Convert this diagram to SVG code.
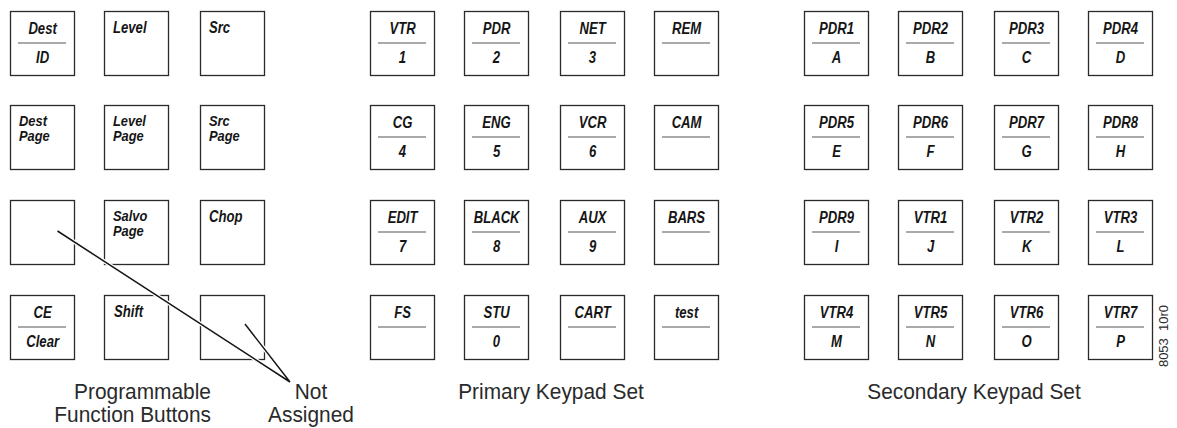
<svg xmlns="http://www.w3.org/2000/svg" width="1177" height="428" viewBox="0 0 1177 428">
<style>
.k use{fill:#fff;stroke:#2a2a2a;stroke-width:1.3}
.k line{stroke:#555;stroke-width:1.1}
.k text{font-family:"Liberation Sans",Arial,sans-serif;font-weight:bold;font-style:italic;font-size:16px;fill:#151515;transform-box:fill-box;transform-origin:center;transform:scaleX(0.82)}
.k text.l{transform-origin:left center}
.k text.t{font-size:15px;transform:scaleX(0.86)}
.c{text-anchor:middle}
.lbl{font-family:"Liberation Sans",Arial,sans-serif;font-size:22px;fill:#2a2a2a;transform-box:fill-box;transform-origin:center;transform:scaleX(0.95)}
.lbl.e{text-anchor:end;transform-origin:right center}
.lbl.m{text-anchor:middle}
.halo{stroke:#fff;stroke-width:4;fill:none}
.ln{stroke:#151515;stroke-width:1.5;fill:none}
</style>
<defs>
<rect id="box" x="0.5" y="0.5" width="64" height="64"/>
</defs>
<g id="programmable">
<g id="k-dest-id" class="k" transform="translate(10,11)"><use href="#box"/><line x1="8" y1="32" x2="56" y2="32"/><text class="c" x="32.5" y="23">Dest</text><text class="c" x="32.5" y="52">ID</text></g>
<g id="k-level" class="k" transform="translate(104,11)"><use href="#box"/><text class="l" x="9" y="22">Level</text></g>
<g id="k-src" class="k" transform="translate(200,11)"><use href="#box"/><text class="l" x="9" y="22">Src</text></g>
<g id="k-dest-page" class="k" transform="translate(10,105)"><use href="#box"/><text class="l t" x="9" y="21.5">Dest</text><text class="l t" x="9" y="36.5">Page</text></g>
<g id="k-level-page" class="k" transform="translate(104,105)"><use href="#box"/><text class="l t" x="9" y="21.5">Level</text><text class="l t" x="9" y="36.5">Page</text></g>
<g id="k-src-page" class="k" transform="translate(200,105)"><use href="#box"/><text class="l t" x="9" y="21.5">Src</text><text class="l t" x="9" y="36.5">Page</text></g>
<g id="k-blank1" class="k" transform="translate(10,200)"><use href="#box"/></g>
<g id="k-salvo-page" class="k" transform="translate(104,200)"><use href="#box"/><text class="l t" x="9" y="21.5">Salvo</text><text class="l t" x="9" y="36.5">Page</text></g>
<g id="k-chop" class="k" transform="translate(200,200)"><use href="#box"/><text class="l" x="9" y="22">Chop</text></g>
<g id="k-ce-clear" class="k" transform="translate(10,295)"><use href="#box"/><line x1="8" y1="32" x2="56" y2="32"/><text class="c" x="32.5" y="23">CE</text><text class="c" x="32.5" y="52">Clear</text></g>
<g id="k-shift" class="k" transform="translate(104,295)"><use href="#box"/><text class="l" x="10" y="22">Shift</text></g>
<g id="k-blank2" class="k" transform="translate(200,295)"><use href="#box"/></g>
</g>
<g id="primary">
<g id="k-vtr" class="k" transform="translate(370,11)"><use href="#box"/><line x1="8" y1="32" x2="56" y2="32"/><text class="c" x="32.5" y="23">VTR</text><text class="c" x="32.5" y="52">1</text></g>
<g id="k-pdr" class="k" transform="translate(464,11)"><use href="#box"/><line x1="8" y1="32" x2="56" y2="32"/><text class="c" x="32.5" y="23">PDR</text><text class="c" x="32.5" y="52">2</text></g>
<g id="k-net" class="k" transform="translate(560,11)"><use href="#box"/><line x1="8" y1="32" x2="56" y2="32"/><text class="c" x="32.5" y="23">NET</text><text class="c" x="32.5" y="52">3</text></g>
<g id="k-rem" class="k" transform="translate(654,11)"><use href="#box"/><line x1="8" y1="32" x2="56" y2="32"/><text class="c" x="32.5" y="23">REM</text></g>
<g id="k-cg" class="k" transform="translate(370,105)"><use href="#box"/><line x1="8" y1="32" x2="56" y2="32"/><text class="c" x="32.5" y="23">CG</text><text class="c" x="32.5" y="52">4</text></g>
<g id="k-eng" class="k" transform="translate(464,105)"><use href="#box"/><line x1="8" y1="32" x2="56" y2="32"/><text class="c" x="32.5" y="23">ENG</text><text class="c" x="32.5" y="52">5</text></g>
<g id="k-vcr" class="k" transform="translate(560,105)"><use href="#box"/><line x1="8" y1="32" x2="56" y2="32"/><text class="c" x="32.5" y="23">VCR</text><text class="c" x="32.5" y="52">6</text></g>
<g id="k-cam" class="k" transform="translate(654,105)"><use href="#box"/><line x1="8" y1="32" x2="56" y2="32"/><text class="c" x="32.5" y="23">CAM</text></g>
<g id="k-edit" class="k" transform="translate(370,200)"><use href="#box"/><line x1="8" y1="32" x2="56" y2="32"/><text class="c" x="32.5" y="23">EDIT</text><text class="c" x="32.5" y="52">7</text></g>
<g id="k-black" class="k" transform="translate(464,200)"><use href="#box"/><line x1="8" y1="32" x2="56" y2="32"/><text class="c" x="32.5" y="23">BLACK</text><text class="c" x="32.5" y="52">8</text></g>
<g id="k-aux" class="k" transform="translate(560,200)"><use href="#box"/><line x1="8" y1="32" x2="56" y2="32"/><text class="c" x="32.5" y="23">AUX</text><text class="c" x="32.5" y="52">9</text></g>
<g id="k-bars" class="k" transform="translate(654,200)"><use href="#box"/><line x1="8" y1="32" x2="56" y2="32"/><text class="c" x="32.5" y="23">BARS</text></g>
<g id="k-fs" class="k" transform="translate(370,295)"><use href="#box"/><line x1="8" y1="32" x2="56" y2="32"/><text class="c" x="32.5" y="23">FS</text></g>
<g id="k-stu" class="k" transform="translate(464,295)"><use href="#box"/><line x1="8" y1="32" x2="56" y2="32"/><text class="c" x="32.5" y="23">STU</text><text class="c" x="32.5" y="52">0</text></g>
<g id="k-cart" class="k" transform="translate(560,295)"><use href="#box"/><line x1="8" y1="32" x2="56" y2="32"/><text class="c" x="32.5" y="23">CART</text></g>
<g id="k-test" class="k" transform="translate(654,295)"><use href="#box"/><line x1="8" y1="32" x2="56" y2="32"/><text class="c" x="32.5" y="23">test</text></g>
</g>
<g id="secondary">
<g id="k-pdr1" class="k" transform="translate(804,11)"><use href="#box"/><line x1="8" y1="32" x2="56" y2="32"/><text class="c" x="32.5" y="23">PDR1</text><text class="c" x="32.5" y="52">A</text></g>
<g id="k-pdr2" class="k" transform="translate(898,11)"><use href="#box"/><line x1="8" y1="32" x2="56" y2="32"/><text class="c" x="32.5" y="23">PDR2</text><text class="c" x="32.5" y="52">B</text></g>
<g id="k-pdr3" class="k" transform="translate(994,11)"><use href="#box"/><line x1="8" y1="32" x2="56" y2="32"/><text class="c" x="32.5" y="23">PDR3</text><text class="c" x="32.5" y="52">C</text></g>
<g id="k-pdr4" class="k" transform="translate(1088,11)"><use href="#box"/><line x1="8" y1="32" x2="56" y2="32"/><text class="c" x="32.5" y="23">PDR4</text><text class="c" x="32.5" y="52">D</text></g>
<g id="k-pdr5" class="k" transform="translate(804,105)"><use href="#box"/><line x1="8" y1="32" x2="56" y2="32"/><text class="c" x="32.5" y="23">PDR5</text><text class="c" x="32.5" y="52">E</text></g>
<g id="k-pdr6" class="k" transform="translate(898,105)"><use href="#box"/><line x1="8" y1="32" x2="56" y2="32"/><text class="c" x="32.5" y="23">PDR6</text><text class="c" x="32.5" y="52">F</text></g>
<g id="k-pdr7" class="k" transform="translate(994,105)"><use href="#box"/><line x1="8" y1="32" x2="56" y2="32"/><text class="c" x="32.5" y="23">PDR7</text><text class="c" x="32.5" y="52">G</text></g>
<g id="k-pdr8" class="k" transform="translate(1088,105)"><use href="#box"/><line x1="8" y1="32" x2="56" y2="32"/><text class="c" x="32.5" y="23">PDR8</text><text class="c" x="32.5" y="52">H</text></g>
<g id="k-pdr9" class="k" transform="translate(804,200)"><use href="#box"/><line x1="8" y1="32" x2="56" y2="32"/><text class="c" x="32.5" y="23">PDR9</text><text class="c" x="32.5" y="52">I</text></g>
<g id="k-vtr1" class="k" transform="translate(898,200)"><use href="#box"/><line x1="8" y1="32" x2="56" y2="32"/><text class="c" x="32.5" y="23">VTR1</text><text class="c" x="32.5" y="52">J</text></g>
<g id="k-vtr2" class="k" transform="translate(994,200)"><use href="#box"/><line x1="8" y1="32" x2="56" y2="32"/><text class="c" x="32.5" y="23">VTR2</text><text class="c" x="32.5" y="52">K</text></g>
<g id="k-vtr3" class="k" transform="translate(1088,200)"><use href="#box"/><line x1="8" y1="32" x2="56" y2="32"/><text class="c" x="32.5" y="23">VTR3</text><text class="c" x="32.5" y="52">L</text></g>
<g id="k-vtr4" class="k" transform="translate(804,295)"><use href="#box"/><line x1="8" y1="32" x2="56" y2="32"/><text class="c" x="32.5" y="23">VTR4</text><text class="c" x="32.5" y="52">M</text></g>
<g id="k-vtr5" class="k" transform="translate(898,295)"><use href="#box"/><line x1="8" y1="32" x2="56" y2="32"/><text class="c" x="32.5" y="23">VTR5</text><text class="c" x="32.5" y="52">N</text></g>
<g id="k-vtr6" class="k" transform="translate(994,295)"><use href="#box"/><line x1="8" y1="32" x2="56" y2="32"/><text class="c" x="32.5" y="23">VTR6</text><text class="c" x="32.5" y="52">O</text></g>
<g id="k-vtr7" class="k" transform="translate(1088,295)"><use href="#box"/><line x1="8" y1="32" x2="56" y2="32"/><text class="c" x="32.5" y="23">VTR7</text><text class="c" x="32.5" y="52">P</text></g>
</g>
<g id="connectors">
<path class="halo" d="M57.5,231 L290,382 M245,324 L290,382"/>
<path class="ln" d="M57.5,231 L290,382 M245,324 L290,382"/>
</g>
<g id="labels">
<text class="lbl e" x="211" y="399">Programmable</text>
<text class="lbl e" x="211" y="422">Function Buttons</text>
<text class="lbl m" x="311" y="399">Not</text>
<text class="lbl m" x="311" y="422">Assigned</text>
<text class="lbl m" x="551" y="399">Primary Keypad Set</text>
<text class="lbl m" x="974" y="399">Secondary Keypad Set</text>
<text x="1168" y="336" transform="rotate(-90 1168 336)" text-anchor="middle" style="font-family:'Liberation Sans',Arial,sans-serif;font-size:13px;fill:#2a2a2a;white-space:pre">8053  10r0</text>
</g>
</svg>
